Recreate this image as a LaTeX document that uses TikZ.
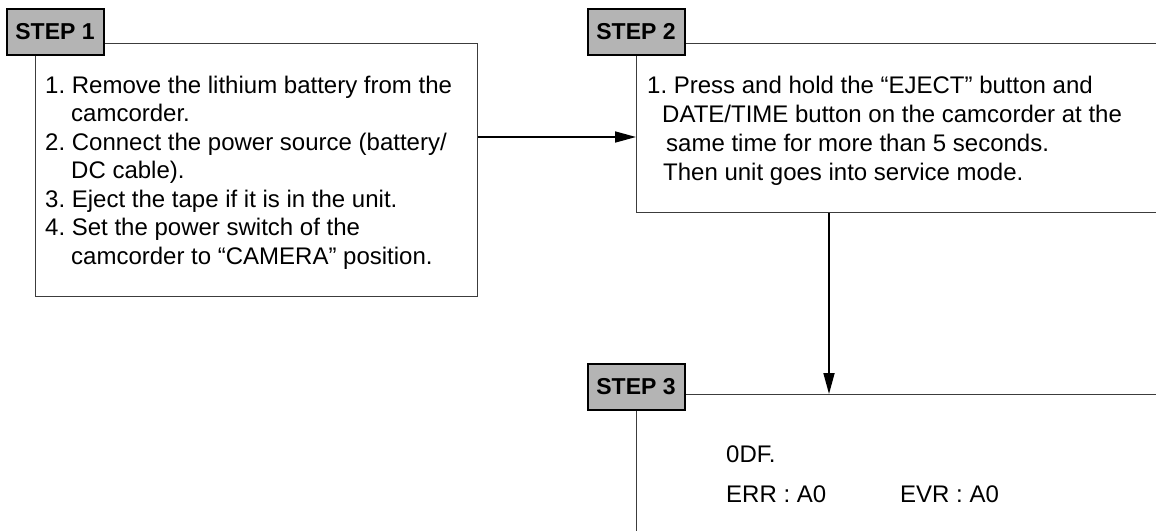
\documentclass[tikz,border=0pt]{standalone}
\usepackage{fontspec}
\setmainfont{Liberation Sans}
\usetikzlibrary{calc,arrows.meta}
\definecolor{tabfill}{HTML}{B4B4B4}
\definecolor{rule}{HTML}{3C3C3C}
\frenchspacing
\tikzset{
  panel/.style={draw=rule, line width=1.4pt, fill=white, anchor=north west, inner sep=0pt},
  tab/.style={draw=black, line width=2pt, fill=tabfill, inner sep=0pt,
    minimum width=97pt, minimum height=46pt, font=\fontsize{23}{27}\selectfont\bfseries},
  flow/.style={draw=black, line width=1.7pt, -{Triangle[length=21pt,width=11pt]}},
  txt/.style={anchor=base west, inner sep=0pt, align=left, font=\fontsize{24}{28.5}\selectfont}
}

\begin{document}
\begin{tikzpicture}[x=1pt, y=-1pt]
  \useasboundingbox (0,0) rectangle (1156,530);
  \clip (0,0) rectangle (1156,530);

  \node[panel, minimum width=442pt, minimum height=253pt] (box1) at (35,43) {};
  \node[panel, minimum width=560pt, minimum height=169pt] (box2) at (636,43) {};
  \node[panel, minimum width=560pt, minimum height=200pt] (box3) at (636,394) {};

  \node[tab] (tab1) at (55,31.5) {STEP 1};
  \node[tab] (tab2) at (636,31.5) {STEP 2};
  \node[tab] (tab3) at (636,387) {STEP 3};

  \node[txt] (list1) at (45,264) {1. Remove the lithium battery from the\\
    \hspace*{26pt}camcorder.\\
    2. Connect the power source (battery/\\
    \hspace*{26pt}DC cable).\\
    3. Eject the tape if it is in the unit.\\
    4. Set the power switch of the\\
    \hspace*{26pt}camcorder to ``CAMERA'' position.};

  \node[txt, font=\fontsize{24}{29}\selectfont] (list2) at (647,180) {1. Press and hold the ``EJECT'' button and\\
    \hspace*{15pt}DATE/TIME button on the camcorder at the\\
    \hspace*{19pt}same time for more than 5 seconds.\\
    \hspace*{16pt}Then unit goes into service mode.};

  \node[txt] (odf) at (726,462) {0DF.};
  \node[txt] (err) at (726,502) {ERR : A0};
  \node[txt] (evr) at (900,502) {EVR : A0};

  \coordinate (drop) at ($(box2.south west)+(193,0)$);
  \draw[flow] ($(box1.north east)+(0,94)$) -- ($(box2.north west)+(0,94)$);
  \draw[flow] (drop) -- (drop |- box3.north);
\end{tikzpicture}
\end{document}
